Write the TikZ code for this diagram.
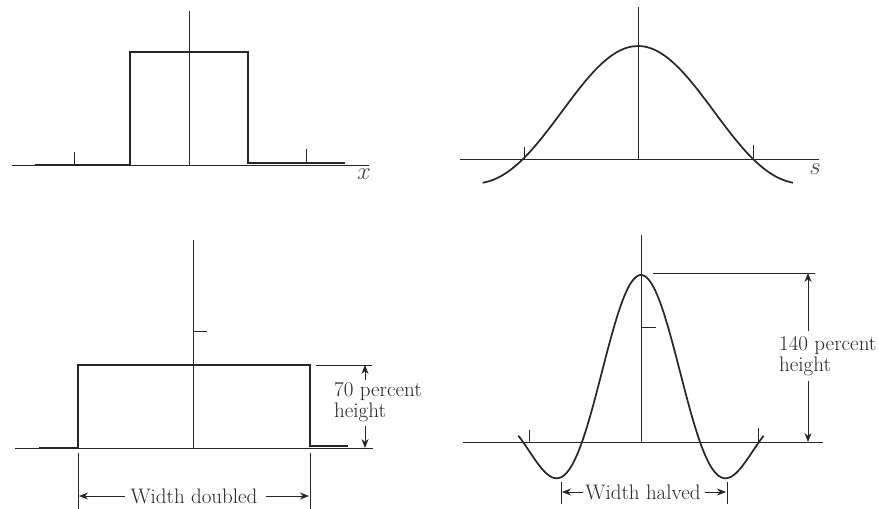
\documentclass[tikz,border=0pt]{standalone}
\usetikzlibrary{arrows.meta}
\begin{document}
\begin{tikzpicture}[x=1pt,y=-1pt,
  axis/.style={line width=0.8pt,black!85},
  func/.style={line width=1.9pt,black!85,line join=miter},
  thin/.style={line width=0.8pt,black!85},
  dimarrow/.style={line width=0.8pt,black!85,-{Stealth[length=9pt,width=7pt]}},
  lbl/.style={font=\fontsize{21}{21}\selectfont,inner sep=0pt,text=black!85},
  varlbl/.style={font=\fontsize{23}{23}\selectfont,inner sep=0pt,text=black!70}]
\useasboundingbox (0,0) rectangle (879,509);

% ---------- top left: rectangle function ----------
\coordinate (tlA0) at (12,165); \coordinate (tlA1) at (369,165);
\coordinate (tlV0) at (189,11);  \coordinate (tlV1) at (189,165);
\draw[axis] (tlA0) -- (tlA1);
\draw[axis] (tlV0) -- (tlV1);
\draw[func] (35,165) -- (130,165) -- (130,52) -- (248,52) -- (248,163) -- (345,163);
\coordinate (tlT1a) at (74,152); \coordinate (tlT1b) at (74,165);
\coordinate (tlT2a) at (306,149); \coordinate (tlT2b) at (306,163);
\draw[thin] (tlT1a) -- (tlT1b);
\draw[thin] (tlT2a) -- (tlT2b);
\node[varlbl] (xl) at (364,174) {$x$};

% ---------- top right: sinc ----------
\coordinate (trA0) at (460,159); \coordinate (trA1) at (819,159);
\coordinate (trV0) at (638,7);   \coordinate (trV1) at (638,159);
\draw[axis] (trA0) -- (trA1);
\draw[axis] (trV0) -- (trV1);
\draw[func,line width=1.7pt] plot[domain=-1.35:1.35,samples=120,smooth]
  ({638+115*\x},{159-113*sin(180*\x)/(pi*\x)});
\coordinate (trT1a) at (524,147); \coordinate (trT1b) at (524,160);
\coordinate (trT2a) at (753,145); \coordinate (trT2b) at (753,158);
\draw[thin] (trT1a) -- (trT1b);
\draw[thin] (trT2a) -- (trT2b);
\node[varlbl] (sl) at (815,169) {$s$};

% ---------- bottom left: widened rectangle ----------
\coordinate (blA0) at (15,448); \coordinate (blA1) at (373,448);
\coordinate (blV0) at (193,240); \coordinate (blV1) at (193,448);
\draw[axis] (blA0) -- (blA1);
\draw[axis] (blV0) -- (blV1);
\coordinate (blK0) at (193,331); \coordinate (blK1) at (207,331);
\draw[thin] (blK0) -- (blK1);
\draw[func] (39,448) -- (78,448) -- (78,365) -- (310,365) -- (310,446) -- (348,446);
% height dimension
\coordinate (blH0) at (316,365); \coordinate (blH1) at (372,365);
\draw[thin] (blH0) -- (blH1);
\node[lbl,anchor=west,align=left] (t70) at (334,402) {70 percent\\height};
\coordinate (blU0) at (365,380); \coordinate (blU1) at (365,365);
\coordinate (blD0) at (365,426); \coordinate (blD1) at (365,448);
\draw[dimarrow] (blU0) -- (blU1);
\draw[dimarrow] (blD0) -- (blD1);
% width dimension
\coordinate (blE1a) at (78,453); \coordinate (blE1b) at (78,509);
\coordinate (blE2a) at (310,453); \coordinate (blE2b) at (310,509);
\draw[thin] (blE1a) -- (blE1b);
\draw[thin] (blE2a) -- (blE2b);
\node[lbl] (wd) at (194,496) {Width doubled};
\coordinate (blW0) at (79,496); \coordinate (blW1) at (309,496);
\draw[dimarrow] (wd.west) ++(-5pt,0) -- (blW0);
\draw[dimarrow] (wd.east) ++(8pt,0) -- (blW1);

% ---------- bottom right: narrowed sinc ----------
\coordinate (brA0) at (463,442); \coordinate (brA1) at (823,442);
\coordinate (brV0) at (641,235); \coordinate (brV1) at (641,442);
\draw[axis] (brA0) -- (brA1);
\draw[axis] (brV0) -- (brV1);
\coordinate (brK0) at (641,327); \coordinate (brK1) at (656,327);
\draw[thin] (brK0) -- (brK1);
\draw[func,line width=1.7pt] plot[domain=-2.08:2.08,samples=160,smooth]
  ({641+59*\x},{442-167*sin(180*\x)/(pi*\x)});
\coordinate (brT1a) at (529,430); \coordinate (brT1b) at (529,443);
\coordinate (brT2a) at (758,428); \coordinate (brT2b) at (758,442);
\draw[thin] (brT1a) -- (brT1b);
\draw[thin] (brT2a) -- (brT2b);
% height dimension
\coordinate (brH0) at (653,273); \coordinate (brH1) at (815,273);
\draw[thin] (brH0) -- (brH1);
\node[lbl,anchor=west,align=left] (t140) at (779,356) {140 percent\\height};
\coordinate (brU0) at (808,331); \coordinate (brU1) at (808,273);
\coordinate (brD0) at (808,381); \coordinate (brD1) at (808,442);
\draw[dimarrow] (brU0) -- (brU1);
\draw[dimarrow] (brD0) -- (brD1);
% width dimension
\coordinate (brE1a) at (561,482); \coordinate (brE1b) at (561,504);
\coordinate (brE2a) at (727,482); \coordinate (brE2b) at (727,504);
\draw[thin] (brE1a) -- (brE1b);
\draw[thin] (brE2a) -- (brE2b);
\node[lbl] (wh) at (643,492) {Width halved};
\coordinate (brW0) at (562,492); \coordinate (brW1) at (726,492);
\draw[dimarrow] (wh.west) ++(-2pt,0) -- (brW0);
\draw[dimarrow] (wh.east) ++(4pt,0) -- (brW1);
\end{tikzpicture}
\end{document}
